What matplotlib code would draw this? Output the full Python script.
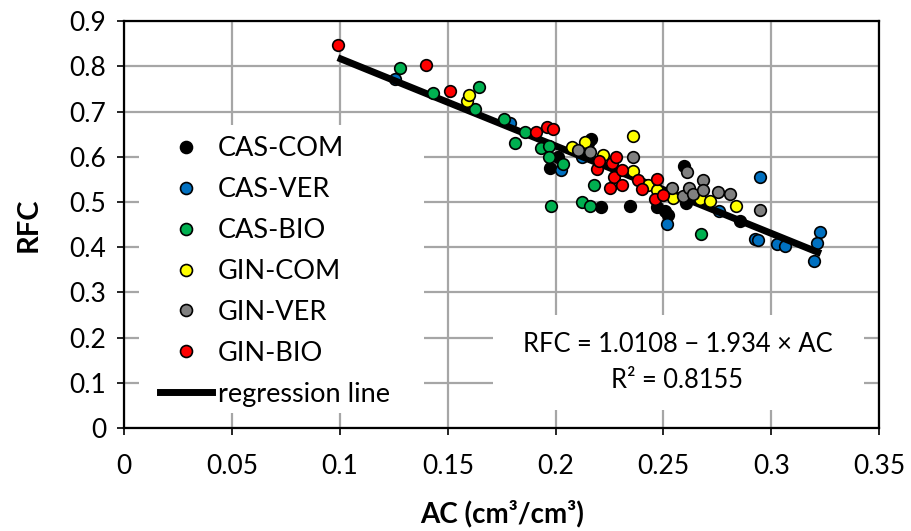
import matplotlib
matplotlib.use("Agg")
import matplotlib.pyplot as plt
from matplotlib.lines import Line2D
from matplotlib.patches import Rectangle
import numpy as np

plt.rcParams['font.family'] = ['Lato', 'DejaVu Sans']

series_names = ["CAS-COM", "CAS-VER", "CAS-BIO", "GIN-COM", "GIN-VER", "GIN-BIO"]
series_colors = ["#000000", "#0070C0", "#00B050", "#FFFF00", "#808080", "#FF0000"]

cas_com_x = [0.1975, 0.201, 0.2165, 0.215, 0.2212, 0.2344, 0.247, 0.2506, 0.252, 0.2595, 0.2605, 0.2855]
cas_com_y = [0.575, 0.600, 0.640, 0.630, 0.488, 0.492, 0.490, 0.480, 0.472, 0.580, 0.497, 0.458]

cas_ver_x = [0.1253, 0.179, 0.2027, 0.212, 0.2515, 0.2948, 0.2759, 0.2925, 0.294, 0.3025, 0.3064, 0.3227, 0.321, 0.3196]
cas_ver_y = [0.773, 0.675, 0.571, 0.600, 0.452, 0.555, 0.480, 0.418, 0.415, 0.407, 0.402, 0.433, 0.410, 0.370]

cas_bio_x = [0.128, 0.143, 0.1645, 0.1625, 0.176, 0.186, 0.181, 0.193, 0.197, 0.197, 0.2035, 0.198, 0.212, 0.216, 0.218, 0.2675]
cas_bio_y = [0.796, 0.742, 0.754, 0.705, 0.683, 0.656, 0.631, 0.620, 0.624, 0.600, 0.584, 0.491, 0.501, 0.492, 0.537, 0.430]

gin_com_x = [0.159, 0.160, 0.2074, 0.2135, 0.222, 0.236, 0.236, 0.243, 0.247, 0.2545, 0.267, 0.2715, 0.2838]
gin_com_y = [0.724, 0.736, 0.621, 0.632, 0.605, 0.647, 0.569, 0.538, 0.527, 0.508, 0.507, 0.503, 0.492]

gin_ver_x = [0.2105, 0.216, 0.236, 0.254, 0.259, 0.2607, 0.262, 0.2638, 0.2685, 0.2685, 0.2755, 0.281, 0.2948]
gin_ver_y = [0.614, 0.610, 0.600, 0.532, 0.514, 0.566, 0.530, 0.518, 0.549, 0.527, 0.522, 0.518, 0.482]

gin_bio_x = [0.099, 0.140, 0.151, 0.191, 0.196, 0.199, 0.219, 0.220, 0.226, 0.228, 0.225, 0.227, 0.231, 0.231, 0.238, 0.240, 0.247, 0.246, 0.250]
gin_bio_y = [0.848, 0.803, 0.746, 0.655, 0.665, 0.661, 0.574, 0.590, 0.587, 0.600, 0.532, 0.555, 0.537, 0.571, 0.549, 0.529, 0.551, 0.507, 0.515]

reg_intercept = 1.0108
reg_slope = -1.934
reg_x_range = [0.099, 0.323]

x_ticks = [0, 0.05, 0.1, 0.15, 0.2, 0.25, 0.3, 0.35]
x_tick_labels = ["0", "0.05", "0.1", "0.15", "0.2", "0.25", "0.3", "0.35"]
y_ticks = [0, 0.1, 0.2, 0.3, 0.4, 0.5, 0.6, 0.7, 0.8, 0.9]
y_tick_labels = ["0", "0.1", "0.2", "0.3", "0.4", "0.5", "0.6", "0.7", "0.8", "0.9"]

all_x = [cas_com_x, cas_ver_x, cas_bio_x, gin_com_x, gin_ver_x, gin_bio_x]
all_y = [cas_com_y, cas_ver_y, cas_bio_y, gin_com_y, gin_ver_y, gin_bio_y]

fig = plt.figure(figsize=(9.11, 5.31), dpi=100)
ax = fig.add_axes([0.1365, 0.194, 0.8285, 0.766])

ax.set_xlim(0, 0.35)
ax.set_ylim(0, 0.9)
ax.set_xticks(x_ticks)
ax.set_xticklabels(x_tick_labels)
ax.set_yticks(y_ticks)
ax.set_yticklabels(y_tick_labels)
ax.grid(True, color="#A6A6A6", linewidth=1.6, zorder=0)
ax.set_axisbelow(True)
for sp in ax.spines.values():
    sp.set_color("black")
    sp.set_linewidth(1.6)
ax.tick_params(axis='both', direction='out', length=5, width=1.2, colors='black', labelsize=19)
ax.tick_params(axis='x', pad=14)
ax.tick_params(axis='y', pad=8)

ms = 70
for i, (xs, ys) in enumerate(zip(all_x, all_y)):
    ax.scatter(xs, ys, s=ms, c=series_colors[i], edgecolors="black", linewidths=1.2,
               zorder=3 + (i if i < 2 else i + 1), clip_on=False)

rx = np.array(reg_x_range)
ax.plot(rx, reg_intercept + reg_slope * rx, color="black", linewidth=5, zorder=5,
        solid_capstyle='butt')

# white boxes behind legend and equation
ax.add_patch(Rectangle((0.007, 0.033), 0.132, 0.637, transform=ax.transData,
                       facecolor="white", edgecolor="none", zorder=1))
ax.add_patch(Rectangle((0.171, 0.04), 0.172, 0.21, transform=ax.transData,
                       facecolor="white", edgecolor="none", zorder=1))

handles = [Line2D([], [], linestyle='none', marker='o', markersize=8.6,
                  markerfacecolor=c, markeredgecolor='black', markeredgewidth=1.2)
           for c in series_colors]
handles.append(Line2D([], [], color='black', linewidth=5))
labels = series_names + ["regression line"]
leg = ax.legend(handles, labels, loc='upper left', bbox_to_anchor=(0.029, 0.751),
                frameon=False, fontsize=19.5, handlelength=1.92, handletextpad=0.22,
                labelspacing=0.59, borderpad=0.0)
leg.set_zorder(6)

ax.text(0.2565, 0.184, "RFC = 1.0108 \u2212 1.934 \u00d7 AC", ha='center', va='center',
        fontsize=18.4, zorder=6)
ax.text(0.2565, 0.106, "R\u00b2 = 0.8155", ha='center', va='center', fontsize=18.4, zorder=6)

ax.set_xlabel("AC (cm\u00b3/cm\u00b3)", fontsize=20, fontweight='bold', labelpad=15)
ax.set_ylabel("RFC", fontsize=21, fontweight='bold', labelpad=20)

fig.savefig("out.png", dpi=100)
